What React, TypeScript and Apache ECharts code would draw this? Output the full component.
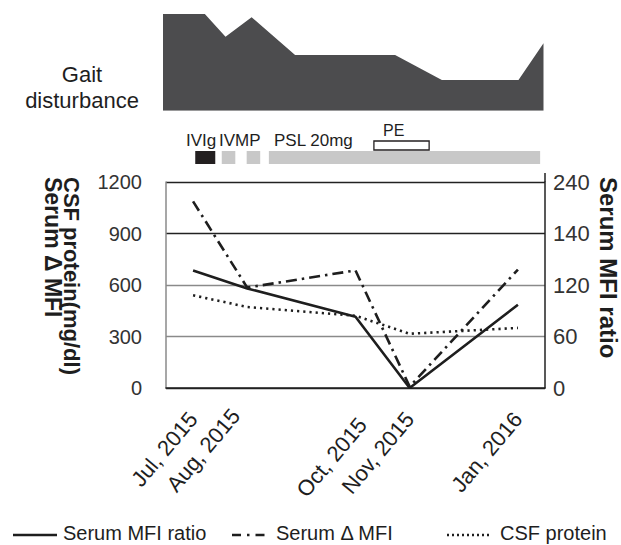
import React, { useEffect, useRef } from "react";
import * as echarts from "echarts";

// ---- data ----
const months = ["Jul, 2015", "Aug, 2015", "Sep, 2015", "Oct, 2015", "Nov, 2015", "Dec, 2015", "Jan, 2016"];
const labeledMonths = ["Jul, 2015", "Aug, 2015", "Oct, 2015", "Nov, 2015", "Jan, 2016"];
const serumMfiRatio = [137, 116, null, 83, 0, null, 97];
const serumDeltaMfi = [1087, 585, null, 685, 8, null, 690];
const csfProtein = [540, 472, null, 421, 316, null, 350];
const rightTickLabels = ["0", "60", "120", "140", "240"];

// gait disturbance severity (months since Jul 2015, arbitrary severity score)
const gaitMonths = [-0.5, 0.27, 0.65, 1.13, 1.93, 3.77, 4.63, 6.04, 6.5];
const gaitScore = [100, 100, 76.5, 96.6, 57.6, 57.6, 31.7, 31.7, 69.7];

// treatments (months since Jul 2015)
const treatmentNames = ["IVIg", "IVMP", "IVMP", "PSL 20mg", "PE"];
const treatmentStart = [0.04, 0.53, 0.99, 1.4, 3.34];
const treatmentEnd = [0.41, 0.78, 1.24, 6.41, 4.36];

const FONT = "Liberation Sans, Arial, Helvetica, sans-serif";
const INK = "#1e1e1e";

const treatmentStyle: Record<string, any> = {
  IVIg: { fill: "#231f20", stroke: null, off: 10, h: 13 },
  IVMP: { fill: "#c8c8c8", stroke: null, off: 10, h: 13 },
  "PSL 20mg": { fill: "#c8c8c8", stroke: null, off: 10, h: 13 },
  PE: { fill: "#ffffff", stroke: "#231f20", off: 0, h: 9 },
};

export default function App() {
  const ref = useRef<HTMLDivElement>(null);
  useEffect(() => {
    if (!ref.current) return;
    const chart = echarts.init(ref.current, undefined, { renderer: "svg" });
    const txt = (text: string, x: number, y: number, size: number, opts: any = {}) => ({
      type: "text",
      x,
      y,
      rotation: opts.rotation || 0,
      style: {
        text,
        fill: INK,
        font: `${opts.bold ? "bold " : ""}${size}px ${FONT}`,
        textAlign: opts.align || "left",
        textVerticalAlign: opts.valign || "middle",
        align: opts.align || "left",
        verticalAlign: opts.valign || "middle",
      },
    });
    const legLine = (x1: number, x2: number, y: number, dash: any) => ({
      type: "line",
      shape: { x1, y1: y, x2, y2: y },
      style: { stroke: INK, lineWidth: 2.4, lineDash: dash },
    });
    const option: any = {
      animation: false,
      backgroundColor: "#ffffff",
      textStyle: { fontFamily: FONT },
      grid: [
        { left: 163, top: 14, width: 380.5, height: 96.7 },
        { left: 166, top: 141, width: 379, height: 24 },
        { left: 166, top: 182, width: 379, height: 206 },
      ],
      xAxis: [
        { type: "value", gridIndex: 0, min: -0.5, max: 6.5, show: false },
        { type: "value", gridIndex: 1, min: -0.5, max: 6.5, show: false },
        {
          type: "category",
          gridIndex: 2,
          data: months,
          boundaryGap: true,
          axisLine: { lineStyle: { color: "#222", width: 1.5 } },
          axisTick: { show: false },
          axisLabel: {
            interval: 0,
            rotate: 50,
            margin: 27,
            fontSize: 22,
            color: INK,
            fontFamily: FONT,
            formatter: (v: string) => {
              if (labeledMonths.indexOf(v) < 0) return "";
              if (v === "Aug, 2015") return `{aug|${v}}`;
              if (v === "Oct, 2015") return `{oct|${v}}`;
              return v;
            },
            rich: {
              aug: { fontSize: 22, color: INK, fontFamily: FONT, padding: [0, 5, 22, 0] },
              oct: { fontSize: 22, color: INK, fontFamily: FONT, padding: [18, 0, 0, 0] },
            },
          },
        },
      ],
      yAxis: [
        { type: "value", gridIndex: 0, min: 0, max: 100, show: false },
        { type: "value", gridIndex: 1, min: 0, max: 1, show: false },
        {
          type: "value",
          gridIndex: 2,
          min: 0,
          max: 1200,
          interval: 300,
          position: "left",
          axisLine: { show: true, lineStyle: { color: "#8a8a8a", width: 1.5 } },
          axisTick: { show: false },
          axisLabel: {
            fontSize: 20,
            margin: 24,
            color: "#333",
            fontFamily: FONT,
            formatter: (v: number) => String(v),
          },
          splitLine: {
            show: true,
            lineStyle: { color: ["#222", "#8a8a8a", "#8a8a8a", "#222", "#222"], width: 1.3 },
          },
        },
        {
          type: "value",
          gridIndex: 2,
          min: 0,
          max: 240,
          interval: 60,
          position: "right",
          axisLine: { show: true, lineStyle: { color: "#222", width: 1.5 } },
          axisTick: { show: false },
          axisLabel: {
            fontSize: 22,
            margin: 8,
            color: "#333",
            fontFamily: FONT,
            formatter: (v: number) => rightTickLabels[Math.round(v / 60)],
          },
          splitLine: { show: false },
        },
      ],
      series: [
        {
          type: "line",
          name: "gait",
          xAxisIndex: 0,
          yAxisIndex: 0,
          data: gaitMonths.map((m, i) => [m, gaitScore[i]]),
          symbol: "none",
          lineStyle: { width: 0 },
          areaStyle: { color: "#4c4c4e", opacity: 1 },
          silent: true,
        },
        {
          type: "custom",
          name: "treatments",
          xAxisIndex: 1,
          yAxisIndex: 1,
          clip: false,
          encode: { x: [0, 1] },
          data: treatmentStart.map((s, i) => [s, treatmentEnd[i]]),
          renderItem: (params: any, api: any) => {
            const st = treatmentStyle[treatmentNames[params.dataIndex]];
            const a = api.coord([api.value(0), 0]);
            const b = api.coord([api.value(1), 0]);
            const top = params.coordSys.y;
            return {
              type: "rect",
              shape: { x: a[0], y: top + st.off, width: b[0] - a[0], height: st.h },
              style: { fill: st.fill, stroke: st.stroke || undefined, lineWidth: st.stroke ? 1.3 : 0 },
            };
          },
        },
        {
          type: "line",
          name: "Serum MFI ratio",
          xAxisIndex: 2,
          yAxisIndex: 3,
          data: serumMfiRatio,
          connectNulls: true,
          symbol: "none",
          color: INK,
          lineStyle: { color: INK, width: 2.6, type: "solid" },
        },
        {
          type: "line",
          name: "Serum Δ MFI",
          xAxisIndex: 2,
          yAxisIndex: 2,
          data: serumDeltaMfi,
          connectNulls: true,
          symbol: "none",
          color: INK,
          lineStyle: { color: INK, width: 2.6, type: [11, 5, 2.5, 5] },
        },
        {
          type: "line",
          name: "CSF protein",
          xAxisIndex: 2,
          yAxisIndex: 2,
          data: csfProtein,
          connectNulls: true,
          symbol: "none",
          color: INK,
          lineStyle: { color: INK, width: 2.6, type: [2.2, 4] },
        },
      ],
      graphic: [
        txt("Gait", 82, 74, 22, { align: "center" }),
        txt("disturbance", 82, 100.6, 22, { align: "center" }),
        txt("IVIg", 186, 140.4, 17),
        txt("IVMP", 219, 140.4, 17),
        txt("PSL 20mg", 274, 140.4, 17),
        txt("PE", 383, 130.4, 16),
        txt("CSF protein(mg/dl)", 82, 177, 22, { bold: true, rotation: -Math.PI / 2, valign: "top" }),
        txt("Serum Δ MFI", 64, 177, 23, { bold: true, rotation: -Math.PI / 2, valign: "top" }),
        txt("Serum MFI ratio", 620, 177, 24, { bold: true, rotation: -Math.PI / 2, valign: "top" }),
        { type: "line", shape: { x1: 545, y1: 173, x2: 545, y2: 182 }, style: { stroke: "#222", lineWidth: 1.5 } },
        // legend
        legLine(13, 57, 535, null),
        txt("Serum MFI ratio", 63, 533, 20),
        legLine(232, 268, 535, [9, 6, 2.5, 6]),
        txt("Serum Δ MFI", 276, 533, 20),
        legLine(447, 490, 535, [2, 3]),
        txt("CSF protein", 500, 533, 20),
      ],
    };
    chart.setOption(option);
    return () => chart.dispose();
  }, []);
  return (
    <div
      ref={ref}
      style={{ position: "fixed", left: 0, top: 0, width: 621, height: 545, background: "#fff" }}
    />
  );
}
